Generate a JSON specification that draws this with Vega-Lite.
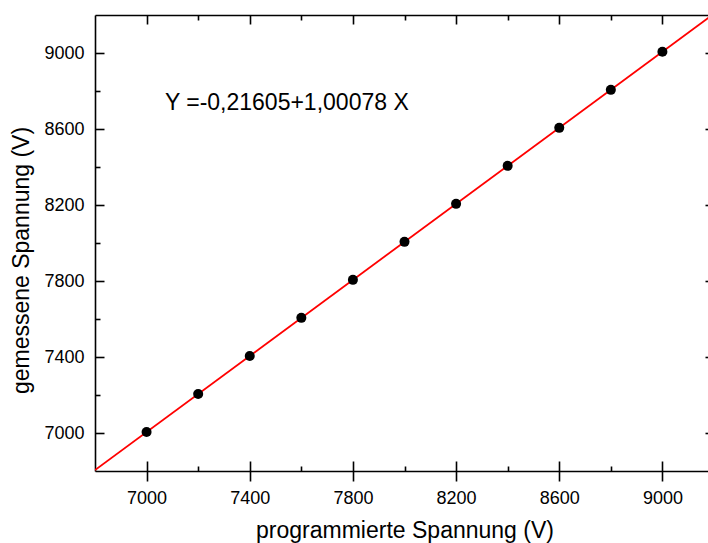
{
  "$schema": "https://vega.github.io/schema/vega-lite/v6.json",
  "width": 619,
  "height": 456,
  "autosize": {"type": "none"},
  "padding": {"left": 95, "top": 15, "right": -6, "bottom": 72},
  "background": "white",
  "config": {
    "view": {"stroke": null},
    "axis": {
      "labelFont": "Liberation Sans",
      "titleFont": "Liberation Sans",
      "labelFontSize": 18,
      "titleFontSize": 23,
      "titleFontWeight": "normal",
      "labelColor": "black",
      "titleColor": "black",
      "domainColor": "black",
      "tickColor": "black",
      "domainWidth": 1.6,
      "tickWidth": 1.6,
      "grid": false
    }
  },
  "datasets": {
    "points": [
      {"prog": 7000, "meas": 7005},
      {"prog": 7200, "meas": 7205},
      {"prog": 7400, "meas": 7405},
      {"prog": 7600, "meas": 7606},
      {"prog": 7800, "meas": 7806},
      {"prog": 8000, "meas": 8006},
      {"prog": 8200, "meas": 8206},
      {"prog": 8400, "meas": 8406},
      {"prog": 8600, "meas": 8606},
      {"prog": 8800, "meas": 8806},
      {"prog": 9000, "meas": 9007}
    ],
    "fit": [
      {"prog": 6800, "meas": 6805.09},
      {"prog": 9200, "meas": 9206.96}
    ],
    "label": [
      {"prog": 7071, "meas": 8737, "text": "Y =-0,21605+1,00078 X"}
    ]
  },
  "resolve": {"axis": {"x": "independent", "y": "independent"}},
  "layer": [
    {
      "data": {"name": "fit"},
      "mark": {"type": "line", "color": "#ff0000", "strokeWidth": 1.8, "clip": true},
      "encoding": {
        "x": {
          "field": "prog", "type": "quantitative",
          "scale": {"domain": [6800, 9200], "nice": false, "zero": false},
          "axis": {
            "orient": "bottom",
            "values": [7000, 7400, 7800, 8200, 8600, 9000],
            "format": "d",
            "tickSize": 10,
            "labelPadding": 8,
            "title": "programmierte Spannung (V)",
            "titlePadding": 12
          }
        },
        "y": {
          "field": "meas", "type": "quantitative",
          "scale": {"domain": [6800, 9200], "nice": false, "zero": false},
          "axis": {
            "orient": "left",
            "values": [7000, 7400, 7800, 8200, 8600, 9000],
            "format": "d",
            "ticks": false,
            "labelPadding": 11,
            "title": "gemessene Spannung (V)",
            "titlePadding": 10,
            "titleY": 245
          }
        }
      }
    },
    {
      "data": {"name": "points"},
      "mark": {"type": "point", "filled": true, "color": "black", "opacity": 1, "size": 100},
      "encoding": {
        "x": {
          "field": "prog", "type": "quantitative",
          "scale": {"domain": [6800, 9200], "nice": false, "zero": false},
          "axis": {
            "orient": "bottom",
            "values": [7000, 7200, 7400, 7600, 7800, 8000, 8200, 8400, 8600, 8800, 9000],
            "labels": false,
            "domain": false,
            "title": null,
            "tickSize": {"condition": {"test": "datum.value % 400 == 200", "value": -10}, "value": -5}
          }
        },
        "y": {
          "field": "meas", "type": "quantitative",
          "scale": {"domain": [6800, 9200], "nice": false, "zero": false},
          "axis": {
            "orient": "left",
            "values": [7000, 7200, 7400, 7600, 7800, 8000, 8200, 8400, 8600, 8800, 9000],
            "labels": false,
            "domain": false,
            "title": null,
            "tickSize": {"condition": {"test": "datum.value % 400 == 200", "value": -9}, "value": -5}
          }
        }
      }
    },
    {
      "data": {"name": "label"},
      "mark": {"type": "text", "align": "left", "baseline": "middle", "font": "Liberation Sans", "fontSize": 23, "color": "black"},
      "encoding": {
        "text": {"field": "text"},
        "x": {
          "field": "prog", "type": "quantitative",
          "scale": {"domain": [6800, 9200], "nice": false, "zero": false},
          "axis": {
            "orient": "top",
            "values": [7000, 7200, 7400, 7600, 7800, 8000, 8200, 8400, 8600, 8800, 9000],
            "labels": false,
            "title": null,
            "tickSize": {"condition": {"test": "datum.value % 400 == 200", "value": -9}, "value": -5}
          }
        },
        "y": {
          "field": "meas", "type": "quantitative",
          "scale": {"domain": [6800, 9200], "nice": false, "zero": false},
          "axis": {
            "orient": "right",
            "values": [7000, 7200, 7400, 7600, 7800, 8000, 8200, 8400, 8600, 8800, 9000],
            "labels": false,
            "title": null,
            "tickSize": {"condition": {"test": "datum.value % 400 == 200", "value": -9}, "value": -5}
          }
        }
      }
    }
  ]
}
